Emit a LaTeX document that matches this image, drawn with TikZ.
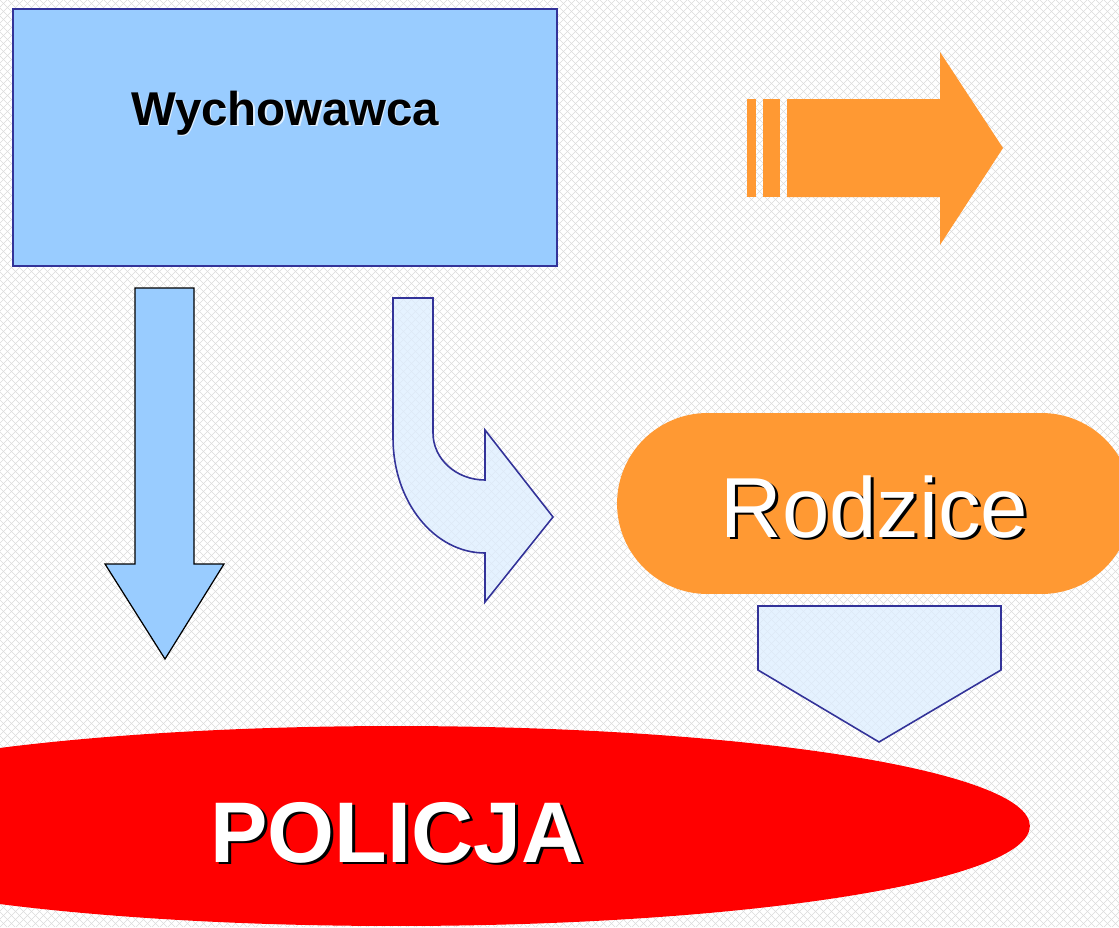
\documentclass[tikz,border=0pt]{standalone}
\usepackage{fontspec}
\setmainfont{Liberation Sans}
\usetikzlibrary{positioning,shapes.geometric}

\definecolor{skyblue}{HTML}{99CCFF}
\definecolor{warmorange}{HTML}{FF9933}
\definecolor{navyline}{HTML}{333399}
\definecolor{paleblue}{HTML}{DDEEFF}

% text with a shadow behind it: {shadow colour}{offset}{text}
\newcommand{\shadowed}[3]{\rlap{\hspace{#2}\raisebox{-#2}{\color{#1}#3}}#3}

\tikzset{
  thinblack/.style={draw=black, line width=0.7pt},
  paleshape/.style={fill=paleblue, fill opacity=0.75, draw=navyline, draw opacity=1, line width=0.9pt},
  bigtext/.style={font=\fontsize{48.5}{52}\selectfont, anchor=base},
}

\begin{document}
\begin{tikzpicture}[x=0.02cm,y=-0.02cm]
	\clip (0,0) rectangle (1119,927);
	\fill[white] (0,0) rectangle (1119,927);
	% diamond grid in the background
	\foreach \i in {-928,-920,...,1120}
		\draw[gray!28, line width=0.35pt] (\i,0) -- ++(927,927) (\i,927) -- ++(927,-927);

	\node[draw=navyline, fill=skyblue, line width=0.9pt, inner sep=0, minimum width=10.88cm, minimum height=5.14cm] (wych) at (285,137.5) {};
	\node[font=\bfseries\fontsize{27}{30}\selectfont, anchor=base] (wychtext) at (285,125) {\shadowed{white!70!skyblue}{0.8pt}{Wychowawca}};

	% orange arrow with two bars
	\fill[warmorange] (747,99) rectangle (756,197);
	\fill[warmorange] (763,99) rectangle (780,197);
	\fill[warmorange] (787,99) -- (940,99) -- (940,52) -- (1003,148) -- (940,245) -- (940,197) -- (787,197) -- cycle;

	% down arrow
	\draw[thinblack, fill=skyblue] (135,288) -- (194,288) -- (194,564) -- (224,564) -- (165,659) -- (105,564) -- (135,564) -- cycle;

	% bent arrow
	\draw[paleshape] (393,298) -- (433,298) -- (433,433) arc[start angle=180, end angle=270, x radius=52, y radius=-47]
		-- (485,430) -- (553,517) -- (485,602) -- (485,553)
		arc[start angle=270, end angle=180, x radius=92, y radius=-115] -- cycle;

	\node[fill=warmorange, rounded corners=1.81cm, inner sep=0, minimum width=10.3cm, minimum height=3.62cm] (rodzice) at (874.5,503.5) {};
	\node[bigtext, white] (rodzicetext) at (874.5,537) {\shadowed{black}{1.6pt}{Rodzice}};

	% pentagon below Rodzice
	\draw[paleshape] (758,606) -- (1001,606) -- (1001,670) -- (879,742) -- (758,670) -- cycle;

	\node[ellipse, fill=red, inner sep=0, minimum width=25.36cm, minimum height=4cm] (policja) at (396,826) {};
	\node[bigtext, font=\bfseries\fontsize{49}{52}\selectfont, white] (policjatext) at (397,862) {\shadowed{black}{1.6pt}{POLICJA}};
\end{tikzpicture}
\end{document}
